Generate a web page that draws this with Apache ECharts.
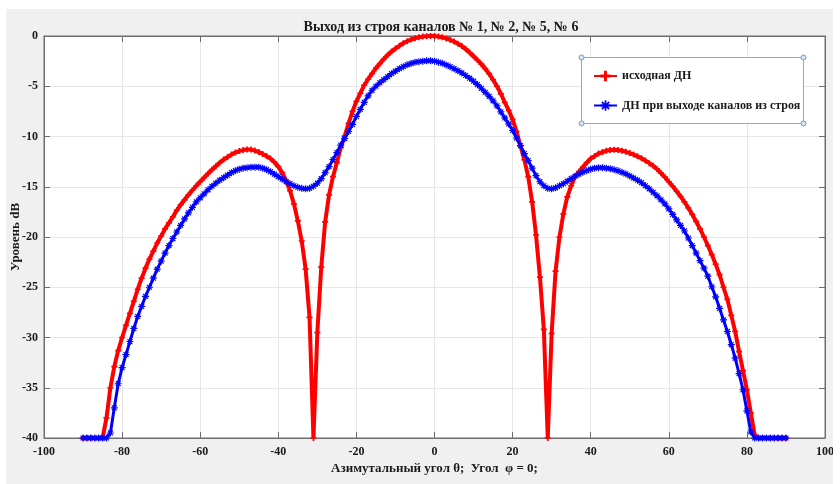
<!DOCTYPE html>
<html>
<head>
<meta charset="utf-8">
<script src="https://cdn.jsdelivr.net/npm/echarts@6/dist/echarts.min.js"></script>
<style>
html,body{margin:0;padding:0;background:#fff;}
#chart{width:840px;height:484px;}
</style>
</head>
<body>
<div id="chart"></div>
<script>
const titleText = 'Выход из строя каналов № 1, № 2, № 5, № 6';
const xName = 'Азимутальный угол θ;  Угол  φ = 0;';
const yName = 'Уровень dB';
const seriesNames = ['исходная ДН', 'ДН при выходе каналов из строя'];

const angles = [-90,-89,-88,-87,-86,-85,-84,-83,-82,-81,-80,-79,-78,-77,-76,-75,-74,-73,-72,-71,-70,-69,-68,-67,-66,-65,-64,-63,-62,-61,-60,-59,-58,-57,-56,-55,-54,-53,-52,-51,-50,-49,-48,-47,-46,-45,-44,-43,-42,-41,-40,-39,-38,-37,-36,-35,-34,-33,-32,-31,-30,-29,-28,-27,-26,-25,-24,-23,-22,-21,-20,-19,-18,-17,-16,-15,-14,-13,-12,-11,-10,-9,-8,-7,-6,-5,-4,-3,-2,-1,0,1,2,3,4,5,6,7,8,9,10,11,12,13,14,15,16,17,18,19,20,21,22,23,24,25,26,27,28,29,30,31,32,33,34,35,36,37,38,39,40,41,42,43,44,45,46,47,48,49,50,51,52,53,54,55,56,57,58,59,60,61,62,63,64,65,66,67,68,69,70,71,72,73,74,75,76,77,78,79,80,81,82,83,84,85,86,87,88,89,90];

const originalDB = [
-40,-40,-40,-40,-40,-40,
-38.0,-35.0,-32.9,-31.3,-30.0,-28.8,-27.6,-26.4,-25.2,-24.1,
-23.1,-22.2,-21.4,-20.6,-19.9,-19.2,-18.6,-18.0,-17.35,-16.8,
-16.3,-15.8,-15.35,-14.9,-14.5,-14.1,-13.7,-13.3,-12.95,-12.6,
-12.3,-12.05,-11.8,-11.6,-11.45,-11.35,-11.3,-11.3,-11.4,-11.55,
-11.75,-11.95,-12.2,-12.55,-13.0,-13.6,-14.4,-15.4,-16.7,-18.4,
-20.4,-23.2,-28.0,-40,-29.5,-23.0,-18.5,-15.8,-14.0,-12.6,
-11.1,-9.95,-8.7,-7.5,-6.5,-5.7,-4.9,-4.3,-3.75,-3.2,
-2.75,-2.3,-1.9,-1.55,-1.25,-0.97,-0.72,-0.52,-0.36,-0.23,
-0.13,-0.06,-0.02,0,-0.01,-0.05,-0.13,-0.24,-0.38,-0.55,
-0.76,-1.0,-1.3,-1.65,-2.02,-2.4,-2.8,-3.25,-3.75,-4.35,
-5.0,-5.75,-6.6,-7.4,-8.3,-9.5,-10.9,-12.3,-14.0,-16.5,
-19.8,-24.0,-29.2,-40,-29.6,-23.4,-20.0,-17.7,-16.0,-14.9,
-14.0,-13.5,-13.05,-12.6,-12.2,-11.95,-11.7,-11.55,-11.42,-11.35,
-11.32,-11.35,-11.42,-11.52,-11.65,-11.8,-11.97,-12.17,-12.4,-12.65,
-12.92,-13.25,-13.65,-14.05,-14.5,-14.95,-15.45,-15.95,-16.5,-17.1,
-17.75,-18.45,-19.2,-20.0,-20.85,-21.75,-22.7,-23.75,-25.0,-26.2,
-27.8,-29.4,-31.4,-33.3,-35.2,-37.5,-39.7,-40,-40,-40,
-40,-40,-40,-40,-40
];

const failedDB = [
-40,-40,-40,-40,-40,-40,-40,
-39.5,-37.0,-34.6,-33.0,-31.7,-30.4,-29.1,-27.9,-26.9,-25.9,
-25.0,-24.1,-23.2,-22.4,-21.6,-20.85,-20.15,-19.5,-18.85,-18.2,
-17.6,-17.05,-16.5,-16.1,-15.7,-15.3,-14.95,-14.65,-14.35,-14.1,
-13.85,-13.6,-13.4,-13.25,-13.15,-13.1,-13.05,-13.05,-13.05,-13.15,
-13.3,-13.5,-13.75,-14.0,-14.25,-14.5,-14.7,-14.9,-15.05,-15.15,
-15.2,-15.15,-14.95,-14.65,-14.2,-13.6,-13.0,-12.3,-11.6,-10.85,
-10.2,-9.5,-8.8,-8.0,-7.3,-6.6,-5.95,-5.4,-5.0,-4.65,
-4.35,-4.05,-3.75,-3.5,-3.25,-3.05,-2.87,-2.73,-2.62,-2.55,
-2.5,-2.47,-2.46,-2.5,-2.6,-2.72,-2.88,-3.05,-3.25,-3.45,
-3.68,-3.93,-4.2,-4.5,-4.83,-5.2,-5.6,-6.0,-6.45,-6.95,
-7.55,-8.15,-8.75,-9.4,-10.15,-10.9,-11.7,-12.4,-13.15,-13.9,
-14.5,-14.9,-15.15,-15.2,-15.1,-14.9,-14.7,-14.45,-14.2,-13.95,
-13.75,-13.55,-13.4,-13.25,-13.15,-13.1,-13.1,-13.15,-13.2,-13.3,
-13.42,-13.56,-13.72,-13.92,-14.13,-14.35,-14.6,-14.9,-15.2,-15.55,
-15.9,-16.3,-16.7,-17.2,-17.75,-18.3,-18.85,-19.4,-20.1,-20.85,
-21.6,-22.35,-23.1,-23.9,-24.95,-25.95,-27.1,-28.25,-29.4,-30.7,
-32.05,-33.6,-35.2,-37.3,-39.4,-40,-40,-40,-40,-40,
-40,-40,-40,-40
];

const xTicks = {min: -100, max: 100, step: 20};
const yTicks = {min: -40, max: 0, step: 5};

const serif = "'Times New Roman', 'Liberation Serif', serif";
const plusPath = 'path://M-1,-0.28 L-0.28,-0.28 L-0.28,-1 L0.28,-1 L0.28,-0.28 L1,-0.28 L1,0.28 L0.28,0.28 L0.28,1 L-0.28,1 L-0.28,0.28 L-1,0.28 Z';
const starPath = 'path://M-1,-0.17 L1,-0.17 L1,0.17 L-1,0.17 Z M-0.17,-1 L0.17,-1 L0.17,1 L-0.17,1 Z M-0.58,-0.82 L0.82,0.58 L0.58,0.82 L-0.82,-0.58 Z M0.58,-0.82 L0.82,-0.58 L-0.58,0.82 L-0.82,0.58 Z';

function pairs(xs, ys){ return xs.map((x,i)=>[x, ys[i]]); }

function axisBase(){
  return {
    axisLine: {show: true, onZero: false, lineStyle: {color: '#6e6e6e', width: 1}},
    axisTick: {show: true, inside: true, length: 6, lineStyle: {color: '#6e6e6e'}}
  };
}

const chart = echarts.init(document.getElementById('chart'), null, {renderer: 'canvas'});
chart.setOption({
  animation: false,
  backgroundColor: '#f0f0f0',
  title: {
    text: titleText, left: 436, top: 15, textAlign: 'center',
    textStyle: {fontFamily: serif, fontWeight: 'bold', fontSize: 14, color: '#1a1a1a'}
  },
  grid: {left: 44, right: 15, top: 36, bottom: 46, show: true, backgroundColor: '#ffffff', borderColor: '#6e6e6e', borderWidth: 1, outerBoundsMode: 'none', containLabel: false},
  legend: {
    data: seriesNames, orient: 'vertical', left: 593, top: 70, padding: 0,
    itemWidth: 23, itemHeight: 13, itemGap: 17.5, z: 6,
    textStyle: {fontFamily: serif, fontWeight: 'bold', fontSize: 12, color: '#1a1a1a'}
  },
  xAxis: [
    Object.assign(axisBase(), {
      type: 'value', min: xTicks.min, max: xTicks.max, interval: xTicks.step, position: 'bottom',
      name: xName, nameLocation: 'middle', nameGap: 24, nameMoveOverlap: false,
      nameTextStyle: {fontFamily: serif, fontWeight: 'bold', fontSize: 13, color: '#1a1a1a'},
      axisLabel: {fontFamily: serif, fontWeight: 'bold', fontSize: 12, color: '#1a1a1a', margin: 8},
      splitLine: {show: true, lineStyle: {color: '#e6e6e6', width: 1}}
    }),
    Object.assign(axisBase(), {
      type: 'value', min: xTicks.min, max: xTicks.max, interval: xTicks.step, position: 'top',
      axisLabel: {show: false}, splitLine: {show: false}
    })
  ],
  yAxis: [
    Object.assign(axisBase(), {
      type: 'value', min: yTicks.min, max: yTicks.max, interval: yTicks.step, position: 'left',
      name: yName, nameLocation: 'middle', nameGap: 22, nameRotate: 90, nameMoveOverlap: false,
      nameTextStyle: {fontFamily: serif, fontWeight: 'bold', fontSize: 13, color: '#1a1a1a'},
      axisLabel: {fontFamily: serif, fontWeight: 'bold', fontSize: 12, color: '#1a1a1a', margin: 6},
      splitLine: {show: true, lineStyle: {color: '#e6e6e6', width: 1}}
    }),
    Object.assign(axisBase(), {
      type: 'value', min: yTicks.min, max: yTicks.max, interval: yTicks.step, position: 'right',
      axisLabel: {show: false}, splitLine: {show: false}
    })
  ],
  graphic: [
    {type: 'rect', shape: {x: 0, y: 0, width: 840, height: 9}, style: {fill: '#ffffff'}, z: 1, silent: true},
    {type: 'rect', shape: {x: 0, y: 0, width: 6, height: 484}, style: {fill: '#ffffff'}, z: 1, silent: true},
    {type: 'rect', shape: {x: 833, y: 0, width: 7, height: 484}, style: {fill: '#ffffff'}, z: 1, silent: true},
    {type: 'rect', shape: {x: 581.5, y: 57.5, width: 222, height: 66}, style: {fill: '#ffffff', stroke: '#a6a6a6', lineWidth: 1}, z: 3, silent: true},
    {type: 'circle', shape: {cx: 581.5, cy: 57.5, r: 2.5}, style: {fill: '#d6e6f5', stroke: '#6d9cc8', lineWidth: 1}, z: 4, silent: true},
    {type: 'circle', shape: {cx: 803.5, cy: 57.5, r: 2.5}, style: {fill: '#d6e6f5', stroke: '#6d9cc8', lineWidth: 1}, z: 4, silent: true},
    {type: 'circle', shape: {cx: 581.5, cy: 123.5, r: 2.5}, style: {fill: '#d6e6f5', stroke: '#6d9cc8', lineWidth: 1}, z: 4, silent: true},
    {type: 'circle', shape: {cx: 803.5, cy: 123.5, r: 2.5}, style: {fill: '#d6e6f5', stroke: '#6d9cc8', lineWidth: 1}, z: 4, silent: true}
  ],
  series: [
    {
      name: seriesNames[0], type: 'line', xAxisIndex: 0, yAxisIndex: 0,
      data: pairs(angles, originalDB),
      showSymbol: true, showAllSymbol: true, symbol: plusPath, symbolSize: 6,
      lineStyle: {color: '#ff0000', width: 4}, itemStyle: {color: '#ff0000', borderWidth: 0},
      z: 2
    },
    {
      name: seriesNames[1], type: 'line', xAxisIndex: 0, yAxisIndex: 0,
      data: pairs(angles, failedDB),
      showSymbol: true, showAllSymbol: true, symbol: starPath, symbolSize: 7,
      lineStyle: {color: '#0000ff', width: 3}, itemStyle: {color: '#0000ff', borderWidth: 0},
      z: 3
    }
  ]
});
</script>
</body>
</html>
